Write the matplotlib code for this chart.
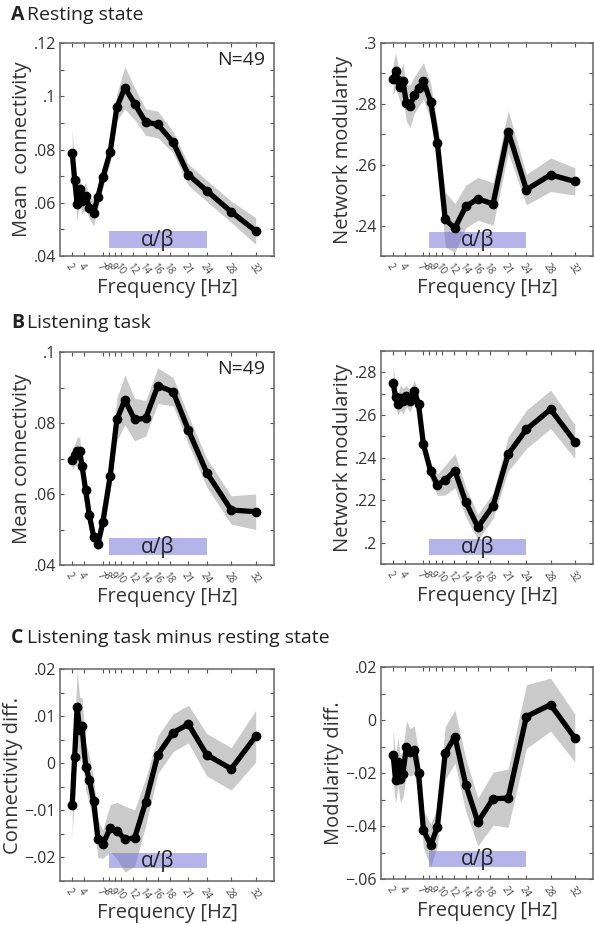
import numpy as np
import matplotlib
matplotlib.use('Agg')
import matplotlib.pyplot as plt
from matplotlib.patches import Rectangle

plt.rcParams.update({'font.family': ['Open Sans', 'DejaVu Sans'], 'figure.facecolor': 'white'})

# frequency bins (Hz) and tick labels
freqs = [2, 2.4, 2.8, 3.2, 3.6, 4.2, 4.8, 5.5, 6.2, 7, 8.2, 9.3, 10.6, 12.2, 14, 16, 18.5, 21, 24, 28, 32]
xtick_vals = [2, 4, 7, 8, 9, 10, 12, 14, 16, 18, 21, 24, 28, 32]
alpha_beta = (8, 24)

# A: resting state
rest_conn = [0.0787, 0.0686, 0.0597, 0.065, 0.0607, 0.0626, 0.0582, 0.0563, 0.0622, 0.0695, 0.079,
             0.0959, 0.1032, 0.0972, 0.0903, 0.0894, 0.0827, 0.0705, 0.0645, 0.0566, 0.0494]
rest_conn_err = [0.009, 0.006, 0.006, 0.005, 0.005, 0.005, 0.004, 0.005, 0.004, 0.004, 0.004,
                 0.005, 0.008, 0.006, 0.005, 0.005, 0.004, 0.004, 0.004, 0.004, 0.005]
rest_mod = [0.2881, 0.2908, 0.2878, 0.2854, 0.2876, 0.2802, 0.2793, 0.2829, 0.2851, 0.2875, 0.2807,
            0.2673, 0.242, 0.2392, 0.2463, 0.2488, 0.2471, 0.2709, 0.2518, 0.2567, 0.2545]
rest_mod_err = [0.005, 0.006, 0.005, 0.005, 0.006, 0.006, 0.007, 0.006, 0.006, 0.006, 0.006,
                0.006, 0.009, 0.008, 0.007, 0.007, 0.007, 0.007, 0.005, 0.0055, 0.0045]

# B: listening task
task_conn = [0.0697, 0.071, 0.072, 0.072, 0.068, 0.061, 0.054, 0.048, 0.046, 0.052, 0.065,
             0.081, 0.0865, 0.081, 0.0813, 0.0905, 0.0888, 0.078, 0.066, 0.0555, 0.055]
task_conn_err = [0.003, 0.003, 0.004, 0.004, 0.003, 0.003, 0.003, 0.002, 0.002, 0.003, 0.004,
                 0.006, 0.007, 0.006, 0.005, 0.005, 0.004, 0.004, 0.004, 0.004, 0.005]
task_mod = [0.275, 0.2685, 0.265, 0.268, 0.2665, 0.2688, 0.2665, 0.2714, 0.2649, 0.2462, 0.2335,
            0.2272, 0.2294, 0.2338, 0.219, 0.2073, 0.2174, 0.2416, 0.2532, 0.2626, 0.2475]
task_mod_err = [0.008, 0.005, 0.005, 0.006, 0.006, 0.005, 0.005, 0.005, 0.004, 0.004, 0.004,
                0.005, 0.007, 0.008, 0.007, 0.006, 0.006, 0.008, 0.009, 0.009, 0.008]

# C: listening minus rest
diff_conn = [-0.0088, 0.0014, 0.012, 0.0071, 0.0078, -0.0007, -0.0035, -0.0081, -0.016, -0.0172, -0.0138,
             -0.0143, -0.0161, -0.0159, -0.0083, 0.0018, 0.0065, 0.0083, 0.0018, -0.0012, 0.0057]
diff_conn_err = [0.007, 0.006, 0.008, 0.007, 0.006, 0.005, 0.005, 0.005, 0.004, 0.003, 0.005,
                 0.006, 0.007, 0.006, 0.005, 0.004, 0.004, 0.004, 0.0045, 0.0045, 0.0055]
diff_mod = [-0.0132, -0.0226, -0.0157, -0.0222, -0.0203, -0.0103, -0.0122, -0.0113, -0.0201, -0.0414, -0.0473,
            -0.0404, -0.0125, -0.0063, -0.0245, -0.0385, -0.0297, -0.0295, 0.0013, 0.0058, -0.0068]
diff_mod_err = [0.01, 0.009, 0.009, 0.009, 0.009, 0.01, 0.009, 0.009, 0.008, 0.007, 0.008,
                0.007, 0.01, 0.01, 0.01, 0.009, 0.01, 0.011, 0.012, 0.01, 0.009]


def fmt(v):
    if abs(v) < 1e-9:
        return '0'
    s = ('%g' % abs(v)).lstrip('0')
    return ('\u2212' if v < 0 else '') + s


W, H = 594, 925
def axes_px(x0, y0, x1, y1):
    return fig.add_axes([x0 / W, 1 - y1 / H, (x1 - x0) / W, (y1 - y0) / H])


def panel(ax, vals, err, ylim, major, minor_step, ylabel, bar_y, n_label=False):
    f = np.array(freqs); v = np.array(vals); e = np.array(err)
    ax.fill_between(f, v - e, v + e, color='#bdbdbd', alpha=0.8, lw=0, zorder=1)
    ax.add_patch(Rectangle((alpha_beta[0], bar_y[0]), alpha_beta[1] - alpha_beta[0], bar_y[1] - bar_y[0],
                           transform=ax.get_xaxis_transform(), facecolor='#6a6ad8', alpha=0.5,
                           lw=0, zorder=2))
    ax.text(np.mean(alpha_beta), np.mean(bar_y), '\u03b1/\u03b2', transform=ax.get_xaxis_transform(),
            ha='center', va='center', fontsize=15, color='#222222', zorder=4)
    ax.plot(f, v, color='black', lw=3.8, marker='o', ms=6, zorder=3)
    ax.set_xlim(0, 35)
    ax.set_ylim(*ylim)
    ax.set_xticks(xtick_vals)
    ax.set_xticklabels([str(t) for t in xtick_vals], rotation=-55, fontsize=7, color='#444444',
                       ha='left', rotation_mode='anchor')
    ax.set_yticks(major)
    ax.set_yticklabels([fmt(m) for m in major], fontsize=11.5, color='#333333')
    ax.set_yticks(np.arange(ylim[0], ylim[1] + 1e-9, minor_step), minor=True)
    ax.tick_params(which='both', direction='in', top=True, right=True, length=3, width=0.8,
                   color='#555555', pad=3)
    ax.tick_params(axis='x', pad=4)
    for s in ax.spines.values():
        s.set_color('#666666'); s.set_linewidth(1.1)
    ax.set_xlabel('Frequency [Hz]', fontsize=14.5, color='#333333', labelpad=1)
    ax.set_ylabel(ylabel, fontsize=14.5, color='#333333', labelpad=1)
    if n_label:
        ax.text(0.96, 0.92, 'N=49', transform=ax.transAxes, ha='right', va='center',
                fontsize=14, color='#222222')


fig = plt.figure(figsize=(W / 100, H / 100), dpi=100)

ax = axes_px(60, 43, 274, 256)
panel(ax, rest_conn, rest_conn_err, (0.04, 0.12), [0.04, 0.06, 0.08, 0.1, 0.12], 0.01,
      'Mean  connectivity', (0.037, 0.116), n_label=True)
ax = axes_px(381, 43, 593, 256)
panel(ax, rest_mod, rest_mod_err, (0.23, 0.30), [0.24, 0.26, 0.28, 0.30], 0.01,
      'Network modularity', (0.039, 0.113))

ax = axes_px(60, 352, 274, 565)
panel(ax, task_conn, task_conn_err, (0.04, 0.10), [0.04, 0.06, 0.08, 0.1], 0.01,
      'Mean connectivity', (0.047, 0.125), n_label=True)
ax = axes_px(381, 351, 593, 564)
panel(ax, task_mod, task_mod_err, (0.19, 0.29), [0.2, 0.22, 0.24, 0.26, 0.28], 0.01,
      'Network modularity', (0.041, 0.119))

ax = axes_px(60, 669, 274, 881)
panel(ax, diff_conn, diff_conn_err, (-0.025, 0.02), [-0.02, -0.01, 0, 0.01, 0.02], 0.005,
      'Connectivity diff.', (0.06, 0.133))
ax = axes_px(381, 667, 593, 879)
panel(ax, diff_mod, diff_mod_err, (-0.06, 0.02), [-0.06, -0.04, -0.02, 0, 0.02], 0.01,
      'Modularity diff.', (0.057, 0.132))

for y, letter, title in [(15, 'A', 'Resting state'), (323, 'B', 'Listening task'),
                         (638, 'C', 'Listening task minus resting state')]:
    fig.text(11 / W, 1 - y / H, letter, fontsize=14, fontweight='bold', va='center', color='#222222')
    fig.text(27 / W, 1 - y / H, title, fontsize=14, va='center', color='#222222')

fig.savefig('out.png', dpi=100)
